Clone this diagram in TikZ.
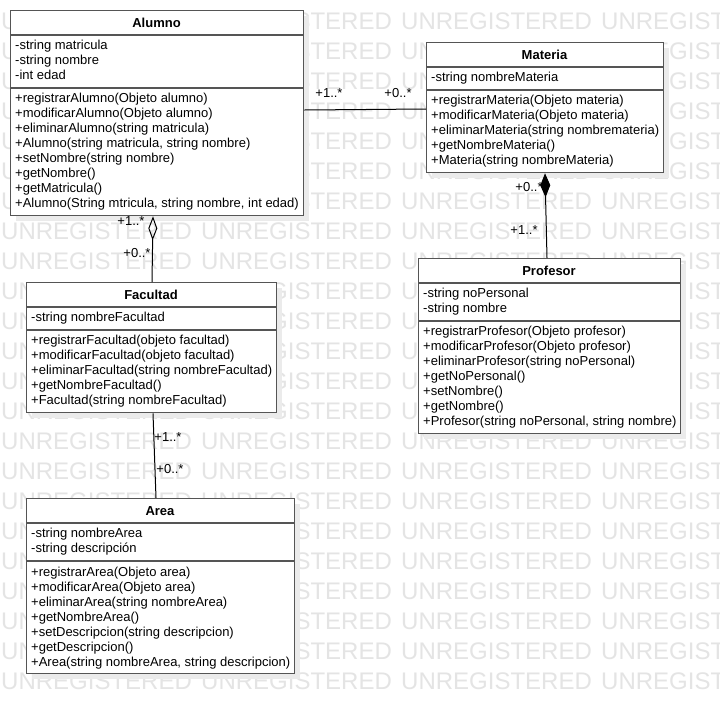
\documentclass[tikz,border=0pt]{standalone}
\usepackage{fontspec}
\setmainfont{Liberation Sans}
\usetikzlibrary{arrows.meta,calc}
\definecolor{wm}{HTML}{E4E4E4}
\definecolor{shd}{HTML}{EBEBEB}
\definecolor{bord}{HTML}{555555}
\tikzset{
  classbox/.style={draw=bord, line width=1.3pt, fill=white, anchor=north west, inner sep=0pt},
  shadowbox/.style={fill=shd, draw=none, anchor=north west, inner sep=0pt},
  sep/.style={draw=bord, line width=1.3pt},
  member/.style={anchor=base west, inner sep=0pt, font=\fontsize{13}{15}\selectfont},
  ctitle/.style={anchor=base, inner sep=0pt, font=\fontsize{13}{15}\selectfont\bfseries},
  mult/.style={inner sep=0pt, font=\fontsize{13}{15}\selectfont},
  wmark/.style={anchor=west, inner sep=0pt, text=wm, font=\fontsize{24}{24}\selectfont},
  conn/.style={draw=black, line width=1pt},
  aggr/.style={-{Diamond[open, length=24pt, width=9pt, line width=1pt]}},
  compo/.style={-{Diamond[length=24pt, width=10pt]}},
}
% class box: #1 name, #2 x, #3 y, #4 width, #5 height
\newcommand{\umlbox}[5]{%
  \node[shadowbox, minimum width=#4pt, minimum height=#5pt] (#1sh) at (#2+6,#3+6) {};
  \node[classbox, minimum width=#4pt, minimum height=#5pt] (#1) at (#2,#3) {};
}
% members: #1 name prefix, #2 x, #3 first baseline y, #4 list
\newcommand{\umllines}[4]{%
  \foreach \t [count=\i from 0] in {#4} {
    \node[member] (#1\i) at (#2,#3+15*\i) {\t};
  }
}
\begin{document}
\begin{tikzpicture}[x=1pt,y=-1pt]
\useasboundingbox[fill=white] (0,0) rectangle (720,713);
% watermark
\foreach \r in {0,...,22} {
  \foreach \c in {0,1,2,3} {
    \node[wmark] (wm-\r-\c) at (200*\c+1, 21+30*\r) {UNREGISTERED};
  }
}
\fill[white] (0,0) rectangle (720,3);

% ---------- Alumno ----------
\umlbox{alumno}{10}{10}{293}{205}
\node[ctitle] (alumnoT) at (156.5,27) {Alumno};
\draw[sep] (10,35) -- (303,35);
\draw[sep] (10,88) -- (303,88);
\umllines{alA}{15}{49.5}{-string matricula,-string nombre,-int edad}
\umllines{alM}{15}{102.5}{+registrarAlumno(Objeto alumno),+modificarAlumno(Objeto alumno),+eliminarAlumno(string matricula),{+Alumno(string matricula, string nombre)},+setNombre(string nombre),+getNombre(),+getMatricula(),{+Alumno(String mtricula, string nombre, int edad)}}

% ---------- Materia ----------
\umlbox{materia}{426}{42}{237}{130}
\node[ctitle] (materiaT) at (544.5,59) {Materia};
\draw[sep] (426,67) -- (663,67);
\draw[sep] (426,90) -- (663,90);
\umllines{maA}{431}{81.5}{-string nombreMateria}
\umllines{maM}{431}{104.5}{+registrarMateria(Objeto materia),+modificarMateria(Objeto materia),+eliminarMateria(string nombremateria),+getNombreMateria(),+Materia(string nombreMateria)}

% ---------- Profesor ----------
\umlbox{profesor}{418}{258}{262}{175}
\node[ctitle] (profesorT) at (549,275) {Profesor};
\draw[sep] (418,283) -- (680,283);
\draw[sep] (418,321) -- (680,321);
\umllines{prA}{423}{297.5}{-string noPersonal,-string nombre}
\umllines{prM}{423}{335.5}{+registrarProfesor(Objeto profesor),+modificarProfesor(Objeto profesor),+eliminarProfesor(string noPersonal),+getNoPersonal(),+setNombre(),+getNombre(),{+Profesor(string noPersonal, string nombre)}}

% ---------- Facultad ----------
\umlbox{facultad}{26}{282}{250}{130}
\node[ctitle] (facultadT) at (151,299) {Facultad};
\draw[sep] (26,307) -- (276,307);
\draw[sep] (26,330) -- (276,330);
\umllines{faA}{31}{321.5}{-string nombreFacultad}
\umllines{faM}{31}{344.5}{+registrarFacultad(objeto facultad),+modificarFacultad(objeto facultad),+eliminarFacultad(string nombreFacultad),+getNombreFacultad(),+Facultad(string nombreFacultad)}

% ---------- Area ----------
\umlbox{area}{26}{498}{268}{175}
\node[ctitle] (areaT) at (160,515) {Area};
\draw[sep] (26,523) -- (294,523);
\draw[sep] (26,561) -- (294,561);
\umllines{arA}{31}{537.5}{-string nombreArea,-string descripción}
\umllines{arM}{31}{576}{+registrarArea(Objeto area),+modificarArea(Objeto area),+eliminarArea(string nombreArea),+getNombreArea(),+setDescripcion(string descripcion),+getDescripcion(),{+Area(string nombreArea, string descripcion)}}

% ---------- connectors ----------
\coordinate (c1a) at ($(alumno.north east)+(0,100)$);
\coordinate (c1b) at ($(materia.north west)+(0,67)$);
\draw[conn] (c1a) -- (c1b);
\node[mult] (m1a) at (329,93) {+1..*};
\node[mult] (m1b) at (398,93) {+0..*};

\coordinate (c2a) at ($(alumno.south west)+(143,0)$);
\coordinate (c2b) at ($(facultad.north west)+(126,0)$);
\draw[conn, aggr] (c2b) -- (c2a);
\node[mult] (m2a) at (131,221) {+1..*};
\node[mult] (m2b) at (137,253) {+0..*};

\coordinate (c3a) at ($(materia.south west)+(119,0)$);
\coordinate (c3b) at ($(profesor.north west)+(129,0)$);
\draw[conn, compo] (c3b) -- (c3a);
\node[mult] (m3a) at (529,187) {+0..*};
\node[mult] (m3b) at (524,230) {+1..*};

\coordinate (c4a) at ($(facultad.south west)+(127,0)$);
\coordinate (c4b) at ($(area.north west)+(130,0)$);
\draw[conn] (c4a) -- (c4b);
\node[mult] (m4a) at (168,437) {+1..*};
\node[mult] (m4b) at (170,469) {+0..*};
\end{tikzpicture}
\end{document}
